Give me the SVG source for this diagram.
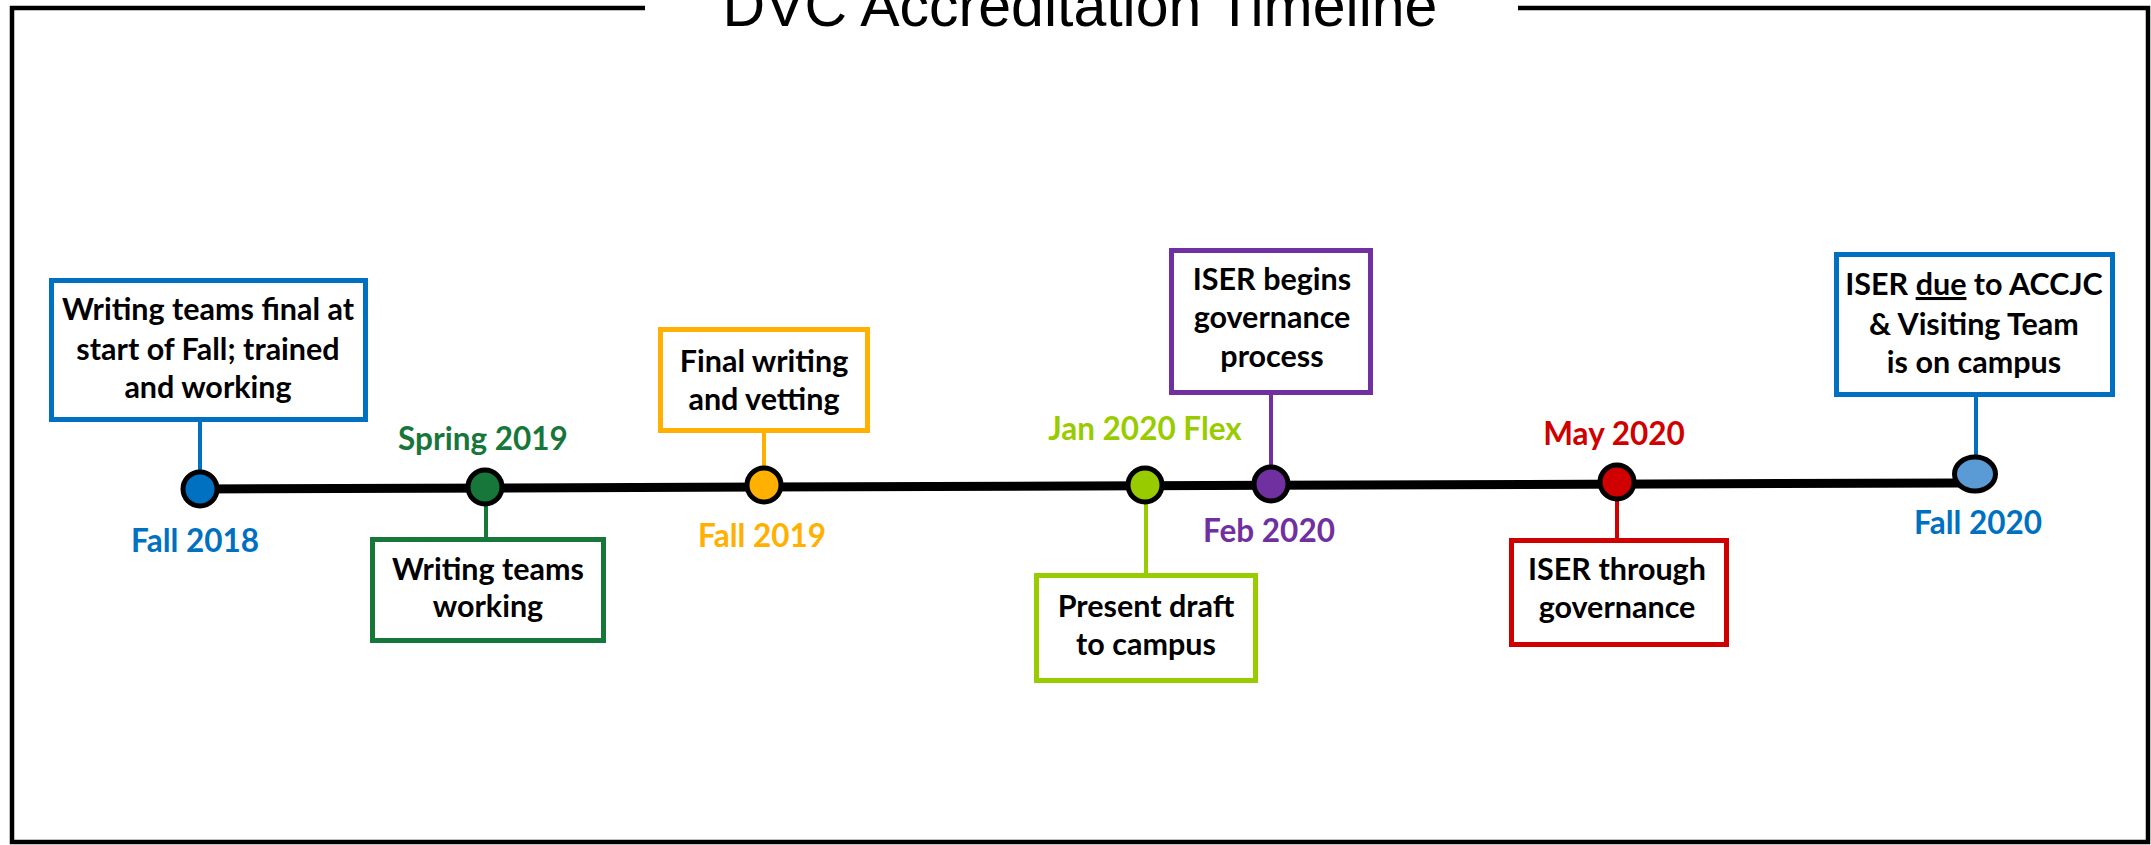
<svg xmlns="http://www.w3.org/2000/svg" width="2151" height="845" viewBox="0 0 2151 845">
  <style>
    .frame { fill: none; stroke: #000; stroke-width: 4.5; }
    .title { font-family: "Liberation Sans", Arial, sans-serif; font-size: 59px; fill: #000; text-anchor: middle; }
    .box { fill: #fff; stroke-width: 5; }
    .boxtext { font-family: Lato, "Open Sans", sans-serif; font-weight: 700; font-size: 30.5px; fill: #000; text-anchor: middle; }
    .date { font-family: Lato, "Open Sans", sans-serif; font-weight: 700; font-size: 31.5px; text-anchor: middle; }
    .dot { stroke: #000; stroke-width: 5; }
    .stem { stroke-width: 4; fill: none; }
    .axis { stroke: #000; stroke-width: 9; stroke-linecap: round; fill: none; }
    .blue { stroke: #0070C0; }
    .green { stroke: #17763A; }
    .orange { stroke: #FFB000; }
    .lime { stroke: #99CC00; }
    .purple { stroke: #7030A0; }
    .red { stroke: #D00000; }
  </style>

  <rect x="0" y="0" width="2151" height="845" fill="#fff"/>

  <!-- outer frame, broken at the top for the title -->
  <path class="frame" d="M645,8 H12 V842 H2148 V8 H1518"/>
  <text class="title" x="1080" y="26">DVC Accreditation Timeline</text>

  <!-- timeline axis and stems -->
  <g id="connectors">
    <line class="axis" x1="200" y1="489" x2="1960" y2="483"/>
    <line class="stem blue" x1="200" y1="422" x2="200" y2="472"/>
    <line class="stem green" x1="486" y1="503" x2="486" y2="538"/>
    <line class="stem orange" x1="764" y1="433" x2="764" y2="468"/>
    <line class="stem lime" x1="1146" y1="502" x2="1146" y2="574"/>
    <line class="stem purple" x1="1271" y1="395" x2="1271" y2="467"/>
    <line class="stem red" x1="1617" y1="499" x2="1617" y2="539"/>
    <line class="stem blue" x1="1976" y1="397" x2="1976" y2="457"/>
  </g>

  <g id="fall-2018">
    <rect class="box blue" x="51.5" y="280.5" width="314" height="139"/>
    <text class="boxtext" x="208" y="320">Writing teams final at</text>
    <text class="boxtext" x="208" y="360">start of Fall; trained</text>
    <text class="boxtext" x="208" y="398">and working</text>
    <circle class="dot" cx="200" cy="489" r="17" fill="#0070C0"/>
    <text class="date" x="195" y="552" fill="#0070C0">Fall 2018</text>
  </g>

  <g id="spring-2019">
    <rect class="box green" x="372.5" y="539.5" width="231" height="101"/>
    <text class="boxtext" x="488" y="580">Writing teams</text>
    <text class="boxtext" x="488" y="617">working</text>
    <circle class="dot" cx="485" cy="487" r="17" fill="#17763A"/>
    <text class="date" x="483" y="450" fill="#17763A">Spring 2019</text>
  </g>

  <g id="fall-2019">
    <rect class="box orange" x="660.5" y="329.5" width="207" height="101"/>
    <text class="boxtext" x="764" y="372">Final writing</text>
    <text class="boxtext" x="764" y="410">and vetting</text>
    <circle class="dot" cx="764" cy="485" r="17" fill="#FFB000"/>
    <text class="date" x="762" y="547" fill="#FFB000">Fall 2019</text>
  </g>

  <g id="jan-2020">
    <rect class="box lime" x="1036.5" y="575.5" width="219" height="105"/>
    <text class="boxtext" x="1146" y="617">Present draft</text>
    <text class="boxtext" x="1146" y="655">to campus</text>
    <circle class="dot" cx="1145" cy="485" r="17" fill="#99CC00"/>
    <text class="date" x="1145" y="440" fill="#99CC00">Jan 2020 Flex</text>
  </g>

  <g id="feb-2020">
    <rect class="box purple" x="1171.5" y="250.5" width="199" height="142"/>
    <text class="boxtext" x="1272" y="290">ISER begins</text>
    <text class="boxtext" x="1272" y="328">governance</text>
    <text class="boxtext" x="1272" y="367">process</text>
    <circle class="dot" cx="1271" cy="484" r="17" fill="#7030A0"/>
    <text class="date" x="1269" y="542" fill="#7030A0">Feb 2020</text>
  </g>

  <g id="may-2020">
    <rect class="box red" x="1511.5" y="540.5" width="215" height="104"/>
    <text class="boxtext" x="1617" y="580">ISER through</text>
    <text class="boxtext" x="1617" y="618">governance</text>
    <circle class="dot" cx="1617" cy="482" r="17" fill="#D00000"/>
    <text class="date" x="1614" y="445" fill="#D00000">May 2020</text>
  </g>

  <g id="fall-2020">
    <rect class="box blue" x="1836.5" y="254.5" width="276" height="140"/>
    <text class="boxtext" x="1974" y="295">ISER <tspan text-decoration="underline">due</tspan> to ACCJC</text>
    <text class="boxtext" x="1974" y="335">&amp; Visiting Team</text>
    <text class="boxtext" x="1974" y="373">is on campus</text>
    <ellipse class="dot" cx="1975" cy="474" rx="20.5" ry="17" fill="#5B9BD5"/>
    <text class="date" x="1978" y="534" fill="#0070C0">Fall 2020</text>
  </g>
</svg>
